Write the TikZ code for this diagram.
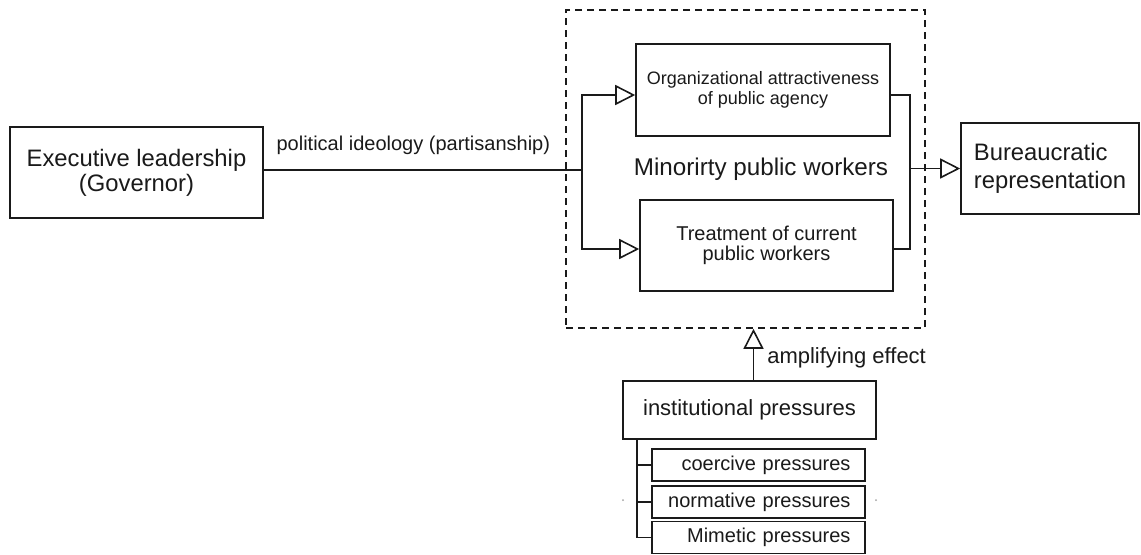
\documentclass[tikz,border=0pt]{standalone}
\usepackage{fontspec}
\setmainfont{Liberation Sans}
\usetikzlibrary{calc,arrows.meta}
\definecolor{ink}{HTML}{1A1A1A}
\tikzset{
  box/.style={draw=ink, line width=0.8pt, inner sep=0pt, text=ink},
  dashbox/.style={draw=ink, line width=0.8pt, dash pattern=on 3.5pt off 2.5pt},
  wire/.style={draw=ink, line width=0.8pt},
  tri/.style={wire, -{Triangle[open, length=10pt, width=10pt]}},
  lab/.style={text=ink, inner sep=0pt},
  subbox/.style={box, minimum height=16pt, text width=92pt, inner xsep=7.25pt,
    align=right, font=\fontsize{10}{10}\selectfont},
}

\begin{document}
\begin{tikzpicture}[x=0.5pt, y=-0.5pt]
  \path[fill=white, use as bounding box] (0,0) rectangle (1141,554);

  % both ends of the chain
  \node[box, minimum width=126.5pt, minimum height=45.5pt, align=center,
        font=\fontsize{11.9}{12.5}\selectfont] (exec) at (136.5,172.5)
        {Executive leadership\\(Governor)};
  \node[box, minimum width=89pt, minimum height=45.5pt,
        font=\fontsize{11.9}{14}\selectfont] (bureau) at (1050,168.5)
        {\raisebox{-1.5pt}{\begin{tabular}{@{}l@{}}Bureaucratic\\representation\end{tabular}}};

  % minority workers block
  \node[dashbox, minimum width=179.5pt, minimum height=159pt] (workers) at (745.5,169) {};
  \node[box, minimum width=127pt, minimum height=46pt, align=center,
        font=\fontsize{9}{10}\selectfont] (attr) at (763,90)
        {Organizational attractiveness\\of public agency};
  \node[box, minimum width=126.5pt, minimum height=45.5pt, align=center,
        font=\fontsize{10}{10}\selectfont] (treat) at (766.5,245.5)
        {Treatment of current\\public workers};
  \node[lab, font=\fontsize{12.1}{14}\selectfont] (minor) at (761,169.5)
        {Minorirty public workers};

  \coordinate (split) at (582,170);
  \coordinate (merge) at (910,168.5);
  \draw[wire] ([yshift=1.25pt]exec.east) -- (split)
    node[lab, pos=0.47, yshift=12.5pt, font=\fontsize{10}{12}\selectfont]
    {political ideology (partisanship)};
  \draw[tri] (split) |- ([yshift=-2.5pt]attr.west);
  \draw[tri] (split) |- ([yshift=-1.75pt]treat.west);
  \draw[wire] ([yshift=-2.5pt]attr.east) -| (merge);
  \draw[wire] ([yshift=-1.75pt]treat.east) -| (merge);
  \draw[tri] (merge) -- (bureau.west);

  % institutional pressures
  \node[box, minimum width=126.5pt, minimum height=29pt,
        font=\fontsize{11}{13}\selectfont] (inst) at (749.5,410)
        {\raisebox{-2.5pt}{institutional pressures}};
  \coordinate (amp) at ([xshift=2pt]inst.north);
  \draw[tri] (amp) -- (amp |- workers.south)
    node[lab, midway, anchor=west, xshift=6.5pt, yshift=-1.75pt,
         font=\fontsize{11}{13}\selectfont] {amplifying effect};

  \node[subbox] (coercive) at (758.5,465) {coercive pressures};
  \node[subbox] (normative) at (758.5,502) {normative pressures};
  \node[subbox] (mimetic) at (758.5,537.5) {Mimetic pressures};
  \coordinate (trunk) at ([xshift=7.5pt]inst.south west);
  \draw[wire] (trunk) |- (mimetic.west);
  \foreach \p in {coercive,normative}
    \draw[wire] (trunk |- \p.west) -- (\p.west);

  \fill[ink!40] (623,500) circle (0.5pt) (876,500) circle (0.5pt);
\end{tikzpicture}
\end{document}
